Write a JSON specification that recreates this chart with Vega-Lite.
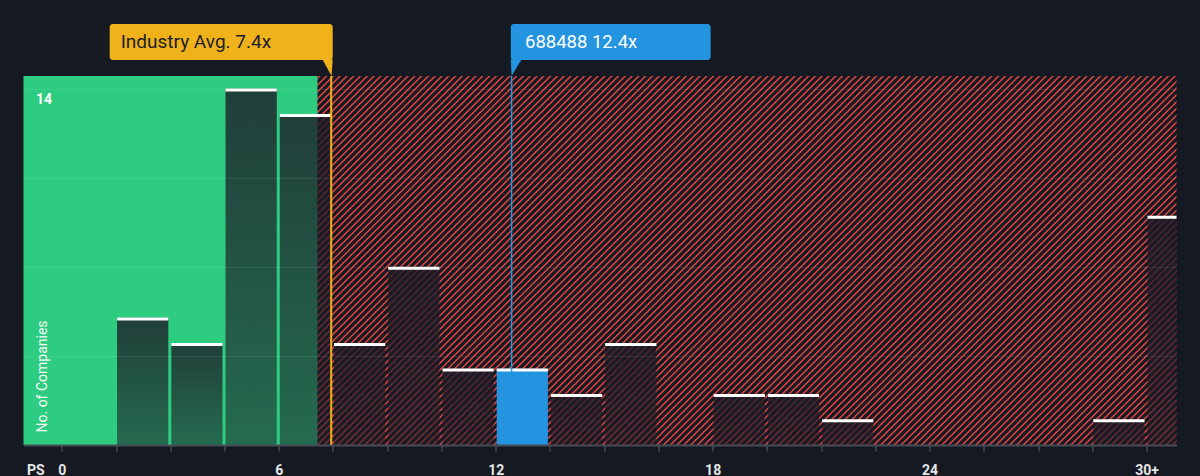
{
  "$schema": "https://vega.github.io/schema/vega-lite/v6.json",
  "width": 1153,
  "height": 369,
  "autosize": {"type": "none"},
  "padding": {"left": 23.5, "top": 76, "right": 23.5, "bottom": 31},
  "background": "#151a22",
  "config": {"view": {"stroke": null}, "font": "Roboto"},
  "datasets": {
    "bins": [
      {"start": 1.5, "end": 3, "count": 5, "highlight": false},
      {"start": 3, "end": 4.5, "count": 4, "highlight": false},
      {"start": 4.5, "end": 6, "count": 14, "highlight": false},
      {"start": 6, "end": 7.5, "count": 13, "highlight": false},
      {"start": 7.5, "end": 9, "count": 4, "highlight": false},
      {"start": 9, "end": 10.5, "count": 7, "highlight": false},
      {"start": 10.5, "end": 12, "count": 3, "highlight": false},
      {"start": 12, "end": 13.5, "count": 3, "highlight": true},
      {"start": 13.5, "end": 15, "count": 2, "highlight": false},
      {"start": 15, "end": 16.5, "count": 4, "highlight": false},
      {"start": 18, "end": 19.5, "count": 2, "highlight": false},
      {"start": 19.5, "end": 21, "count": 2, "highlight": false},
      {"start": 21, "end": 22.5, "count": 1, "highlight": false},
      {"start": 28.5, "end": 30, "count": 1, "highlight": false},
      {"start": 30, "end": 31.5, "count": 9, "highlight": false}
    ],
    "zones": [{"zone": "below average", "start": -1.06, "end": 7.07}],
    "markers": [
      {"kind": "avg", "label": "Industry Avg. 7.4x", "value": 7.45},
      {"kind": "company", "label": "688488 12.4x", "value": 12.44}
    ]
  },
  "layer": [
    {
      "data": {"name": "zones"},
      "mark": {"type": "rule", "clip": true, "color": "#d6423f", "strokeWidth": 900, "strokeDash": [1.6, 3.2], "strokeCap": "butt"},
      "encoding": {
        "x": {"datum": 10.10, "type": "quantitative", "scale": {"domain": [-1.06, 30.83], "nice": false, "zero": false},
          "axis": {
            "values": [0, 1.5, 3, 4.5, 6, 7.5, 9, 10.5, 12, 13.5, 15, 16.5, 18, 19.5, 21, 22.5, 24, 25.5, 27, 28.5, 30],
            "labelExpr": "datum.value == 30 ? '30+' : (datum.value % 6 == 0 ? datum.label : '')",
            "title": "PS", "titleX": 3, "titleY": 25, "titleAlign": "left", "titleBaseline": "middle",
            "titleFont": "Roboto", "titleFontSize": 14, "titleFontWeight": "bold", "titleColor": "#e6e6e6",
            "labelFont": "Roboto", "labelFontSize": 14, "labelFontWeight": "bold", "labelColor": "#e6e6e6",
            "labelBaseline": "middle", "labelPadding": 19, "labelFlush": false, "labelOverlap": false,
            "domainColor": "#474c55", "domainWidth": 2, "tickColor": "#474c55", "tickWidth": 1.5, "tickSize": 6,
            "grid": false, "zindex": 1
          }},
        "y": {"datum": 19.825, "type": "quantitative", "scale": {"domain": [0, 14.5], "nice": false, "zero": false},
          "axis": {
            "values": [0, 3.5, 7, 10.5, 14],
            "labelExpr": "datum.value == 14 ? '14' : ''",
            "grid": true, "gridColor": "#ffffff", "gridOpacity": 0.08, "gridWidth": 1,
            "domain": false, "ticks": false,
            "labelAlign": "left", "labelBaseline": "top", "labelPadding": -12, "labelOffset": 4,
            "labelFont": "Roboto", "labelFontSize": 14, "labelFontWeight": "bold", "labelColor": "#ffffff",
            "title": "No. of Companies", "titleAngle": -90, "titleX": 22.5, "titleY": 356, "titleAlign": "left", "titleBaseline": "alphabetic",
            "titleFont": "Roboto", "titleFontSize": 14, "titleFontWeight": "normal", "titleColor": "#f4f8f6",
            "zindex": 1
          }},
        "x2": {"datum": 27.80},
        "y2": {"datum": -5.325}
      }
    },
    {
      "data": {"name": "zones"},
      "mark": {"type": "rect", "color": "#2ecc80"},
      "encoding": {
        "x": {"field": "start", "type": "quantitative", "scale": {"domain": [-1.06, 30.83], "nice": false, "zero": false}},
        "x2": {"field": "end"}
      }
    },
    {
      "data": {"name": "bins"},
      "transform": [{"filter": "!datum.highlight"}],
      "mark": {
        "type": "rect", "clip": true, "xOffset": 1, "x2Offset": -2,
        "color": {"gradient": "linear", "x1": 0, "y1": 0, "x2": 0, "y2": 1,
          "stops": [{"offset": 0, "color": "rgba(29,27,39,0.8)"}, {"offset": 1, "color": "rgba(29,27,39,0.55)"}]}
      },
      "encoding": {
        "x": {"field": "start", "type": "quantitative", "scale": {"domain": [-1.06, 30.83], "nice": false, "zero": false}},
        "x2": {"field": "end"},
        "y": {"field": "count", "type": "quantitative", "scale": {"domain": [0, 14.5], "nice": false, "zero": false}},
        "y2": {"datum": 0}
      }
    },
    {
      "data": {"name": "bins"},
      "transform": [{"filter": "datum.highlight"}],
      "mark": {"type": "rect", "clip": true, "xOffset": 1, "x2Offset": -2, "color": "#2394df"},
      "encoding": {
        "x": {"field": "start", "type": "quantitative", "scale": {"domain": [-1.06, 30.83], "nice": false, "zero": false}},
        "x2": {"field": "end"},
        "y": {"field": "count", "type": "quantitative", "scale": {"domain": [0, 14.5], "nice": false, "zero": false}},
        "y2": {"datum": 0}
      }
    },
    {
      "data": {"name": "bins"},
      "mark": {"type": "rule", "clip": true, "color": "#ffffff", "strokeWidth": 3, "xOffset": 1, "x2Offset": -2, "yOffset": 1.3},
      "encoding": {
        "x": {"field": "start", "type": "quantitative", "scale": {"domain": [-1.06, 30.83], "nice": false, "zero": false}},
        "x2": {"field": "end"},
        "y": {"field": "count", "type": "quantitative", "scale": {"domain": [0, 14.5], "nice": false, "zero": false}}
      }
    },
    {
      "data": {"name": "markers"},
      "transform": [{"filter": "datum.kind == 'company'"}],
      "mark": {"type": "rule", "color": "#2394df", "strokeWidth": 1.5},
      "encoding": {
        "x": {"field": "value", "type": "quantitative", "scale": {"domain": [-1.06, 30.83], "nice": false, "zero": false}}
      }
    },
    {
      "data": {"name": "markers"},
      "transform": [{"filter": "datum.kind == 'avg'"}],
      "mark": {"type": "rule", "color": "#f0b21a", "strokeWidth": 2},
      "encoding": {
        "x": {"field": "value", "type": "quantitative", "scale": {"domain": [-1.06, 30.83], "nice": false, "zero": false}}
      }
    },
    {
      "data": {"name": "markers"},
      "transform": [{"filter": "datum.kind == 'avg'"}],
      "mark": {"type": "rect", "color": "#f0b21a", "cornerRadius": 3, "xOffset": -221.5, "x2Offset": 1.5, "yOffset": -16, "y2Offset": -52},
      "encoding": {
        "x": {"field": "value", "type": "quantitative", "scale": {"domain": [-1.06, 30.83], "nice": false, "zero": false}},
        "x2": {"field": "value"},
        "y": {"datum": 14.5, "type": "quantitative", "scale": {"domain": [0, 14.5], "nice": false, "zero": false}},
        "y2": {"datum": 14.5}
      }
    },
    {
      "data": {"name": "markers"},
      "transform": [{"filter": "datum.kind == 'avg'"}],
      "mark": {"type": "point", "filled": true, "opacity": 1, "color": "#f0b21a", "size": 256, "yOffset": -8, "shape": "M -1.1 -1.1 L 0.19 -1.1 L 0.05 1 Z"},
      "encoding": {
        "x": {"field": "value", "type": "quantitative", "scale": {"domain": [-1.06, 30.83], "nice": false, "zero": false}},
        "y": {"datum": 14.5, "type": "quantitative", "scale": {"domain": [0, 14.5], "nice": false, "zero": false}}
      }
    },
    {
      "data": {"name": "markers"},
      "transform": [{"filter": "datum.kind == 'avg'"}],
      "mark": {"type": "text", "align": "left", "baseline": "middle", "dx": -210.5, "dy": -34, "font": "Roboto", "fontSize": 19, "color": "#1d2129"},
      "encoding": {
        "x": {"field": "value", "type": "quantitative", "scale": {"domain": [-1.06, 30.83], "nice": false, "zero": false}},
        "y": {"datum": 14.5, "type": "quantitative", "scale": {"domain": [0, 14.5], "nice": false, "zero": false}},
        "text": {"field": "label"}
      }
    },
    {
      "data": {"name": "markers"},
      "transform": [{"filter": "datum.kind == 'company'"}],
      "mark": {"type": "rect", "color": "#2394df", "cornerRadius": 3, "xOffset": -0.8, "x2Offset": 199, "yOffset": -16, "y2Offset": -52},
      "encoding": {
        "x": {"field": "value", "type": "quantitative", "scale": {"domain": [-1.06, 30.83], "nice": false, "zero": false}},
        "x2": {"field": "value"},
        "y": {"datum": 14.5, "type": "quantitative", "scale": {"domain": [0, 14.5], "nice": false, "zero": false}},
        "y2": {"datum": 14.5}
      }
    },
    {
      "data": {"name": "markers"},
      "transform": [{"filter": "datum.kind == 'company'"}],
      "mark": {"type": "point", "filled": true, "opacity": 1, "color": "#2394df", "size": 256, "yOffset": -8, "shape": "M -0.1 -1.1 L 1.25 -1.1 L 0 1 Z"},
      "encoding": {
        "x": {"field": "value", "type": "quantitative", "scale": {"domain": [-1.06, 30.83], "nice": false, "zero": false}},
        "y": {"datum": 14.5, "type": "quantitative", "scale": {"domain": [0, 14.5], "nice": false, "zero": false}}
      }
    },
    {
      "data": {"name": "markers"},
      "transform": [{"filter": "datum.kind == 'company'"}],
      "mark": {"type": "text", "align": "left", "baseline": "middle", "dx": 13.4, "dy": -34, "font": "Roboto", "fontSize": 18.5, "color": "#ffffff"},
      "encoding": {
        "x": {"field": "value", "type": "quantitative", "scale": {"domain": [-1.06, 30.83], "nice": false, "zero": false}},
        "y": {"datum": 14.5, "type": "quantitative", "scale": {"domain": [0, 14.5], "nice": false, "zero": false}},
        "text": {"field": "label"}
      }
    }
  ]
}
